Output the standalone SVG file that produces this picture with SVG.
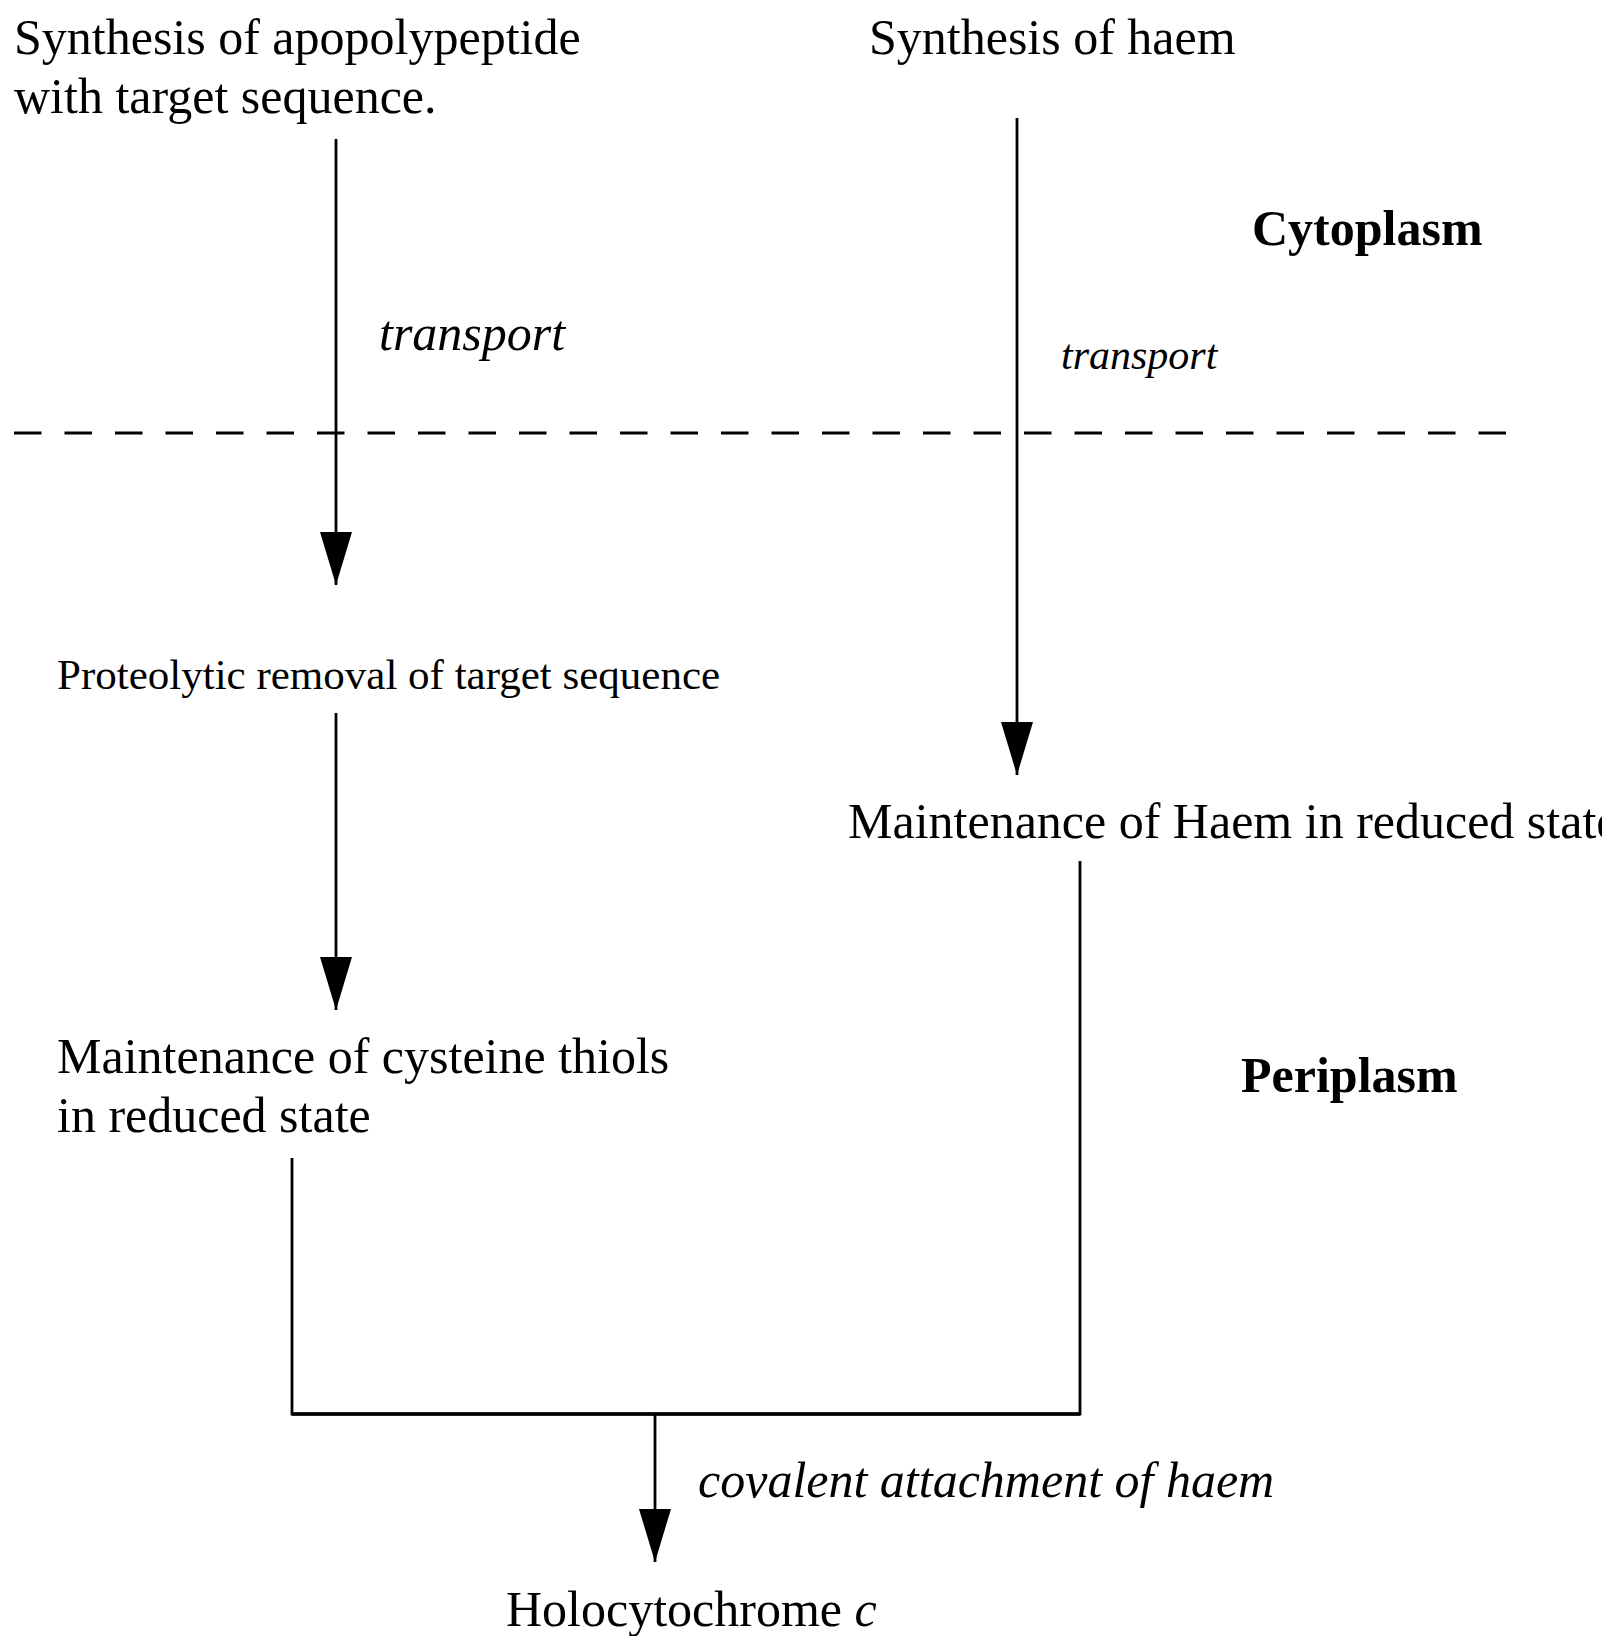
<svg xmlns="http://www.w3.org/2000/svg" width="1611" height="1636" viewBox="0 0 1611 1636">
<style>
text{font-family:"Liberation Serif","Times New Roman",serif;fill:#000}
.t{font-size:50px}
.s{font-size:43px}
.b{font-size:50px;font-weight:bold}
.i{font-style:italic}
.ln{stroke:#000;stroke-width:2.8;fill:none}
</style>
<defs>
<marker id="ah" markerUnits="userSpaceOnUse" viewBox="0 0 53 32" refX="53" refY="16" markerWidth="53" markerHeight="32" orient="auto">
<path d="M0,0 L53,16 L0,32 Z" fill="#000"/>
</marker>
<clipPath id="pg"><rect x="0" y="0" width="1602" height="1636"/></clipPath>
</defs>
<rect width="1611" height="1636" fill="#fff"/>
<g id="labels">
<text class="b" x="1252" y="245">Cytoplasm</text>
<text class="b" x="1241" y="1092">Periplasm</text>
</g>
<g id="n-apopoly"><text class="t" x="14" y="54">Synthesis of apopolypeptide</text><text class="t" x="14" y="113">with target sequence.</text></g>
<g id="n-haem"><text class="t" x="869" y="54">Synthesis of haem</text></g>
<g id="n-proteolytic"><text class="s" x="57" y="689">Proteolytic removal of target sequence</text></g>
<g id="n-haemred" clip-path="url(#pg)"><text class="t" x="848" y="838">Maintenance of Haem in reduced state</text></g>
<g id="n-cys"><text class="t" x="57" y="1073">Maintenance of cysteine thiols</text><text class="t" x="57" y="1132">in reduced state</text></g>
<g id="n-holo"><text class="t" x="506" y="1626">Holocytochrome <tspan class="i">c</tspan></text></g>
<g id="membrane"><line x1="14" y1="433" x2="1508" y2="433" stroke="#000" stroke-width="3" stroke-dasharray="27.5 23"/></g>
<g id="connectors">
<line class="ln" x1="336" y1="139" x2="336" y2="585" marker-end="url(#ah)"/>
<line class="ln" x1="1017" y1="118" x2="1017" y2="775" marker-end="url(#ah)"/>
<line class="ln" x1="336" y1="713" x2="336" y2="1010" marker-end="url(#ah)"/>
<polyline class="ln" points="292,1158 292,1414 1080,1414 1080,861"/>
<line x1="292" y1="1414" x2="1080" y2="1414" stroke="#000" stroke-width="3.5"/>
<line class="ln" x1="655" y1="1414" x2="655" y2="1562" marker-end="url(#ah)"/>
<text class="t i" x="379" y="350">transport</text>
<text class="i" font-size="42" x="1061" y="369">transport</text>
<text class="t i" x="698" y="1497">covalent attachment of haem</text>
</g>
</svg>
